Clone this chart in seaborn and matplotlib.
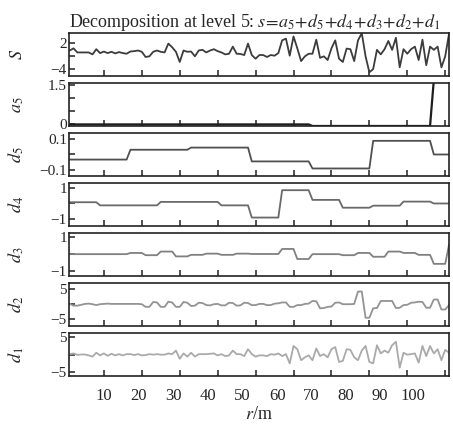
import numpy as np
import matplotlib
matplotlib.use('Agg')
import matplotlib.pyplot as plt
import seaborn as sns

# sample position r (m)
r = np.arange(1, 102)

# signal s
s = [0.3, 0.8, -0.15, -0.15, -0.15, -0.15, -0.6, 0.6, -0.3, 0.05,
     -0.3, 0.0, -0.37, -0.07, -0.3, -0.44, 0.07, 0.15, 0.3, 0.0,
     -1.2, -1.05, 0.0, 0.3, 0.0, -0.15, 1.9, 1.05, 0.0, -2.35,
     0.3, 0.0, 0.07, -1.05, 0.3, 0.45, -0.15, 0.3, 0.6, 0.15,
     -0.15, -0.6, -0.45, 1.2, -0.45, -0.5, -0.75, 1.9, -0.75, -1.6,
     -0.75, -0.75, -1.2, -0.75, -0.9, -0.3, 2.65, 3.05, -0.9, 3.55,
     0.8, -2.15, -1.05, -0.45, -0.45, 2.8, -1.4, -1.05, -1.9, 0.8,
     2.65, -1.6, -2.35, 0.75, 0.6, -2.15, 2.65, 4.3, -1.05, -4.75,
     -4.0, 0.45, -0.6, 0.6, 2.5, 0.45, 3.25, -3.6, 0.6, -0.45,
     0.6, 1.2, -1.9, 2.8, -3.1, 1.2, 0.45, 1.2, -3.6, -1.05, 4.15]

# piecewise constant components: level of each block and its length in samples
a5_level = [0.0, -0.06, 1.7]
a5_len = [64, 32, 5]
d5_level = [-0.033, 0.031, 0.045, -0.045, -0.091, 0.089, 0.0]
d5_len = [16, 16, 16, 16, 16, 16, 5]
d4_level = [0.08, -0.12, 0.1, -0.12, -0.9, 0.85, 0.23, -0.27, -0.14, 0.12, 0.0]
d4_len = [8, 16, 16, 8, 8, 8, 8, 8, 8, 8, 5]
d3_level = [0.0, 0.07, -0.06, 0.15, -0.13, -0.04, 0.03, -0.04, 0.03, 0.01,
            0.30, -0.28, 0.0, -0.06, 0.07, -0.15, 0.15, 0.07, -0.04, -0.56, 0.54]
d3_len = [16, 4, 4, 4, 4, 4, 4, 4, 4, 8,
          4, 4, 8, 4, 4, 4, 4, 4, 4, 4, 1]

d2 = [0.1, -0.5, -0.5, -0.2, 0.1, 0.2, 0.0, -0.3, 0.0, 0.1,
      0.2, 0.1, 0.1, 0.1, 0.1, 0.1, 0.1, 0.1, 0.1, 0.0,
      -0.9, -0.9, 0.75, 0.6, -0.9, -0.9, 0.85, 0.6, -0.9, -0.9,
      0.75, 0.5, -0.6, -0.5, 0.5, 0.4, -0.3, -0.4, 0.0, 0.1,
      -0.4, -0.4, 0.5, 0.4, -0.5, -0.4, 0.5, 0.4, -0.3, -0.3,
      0.1, 0.1, -0.3, -0.3, 0.2, 0.3, 0.6, 0.6, -0.9, -0.9,
      -0.3, -0.3, 0.1, 0.2, 1.1, 1.0, -1.4, -1.3, -0.9, -0.8,
      0.5, 0.6, 0.0, 0.0, 0.0, 0.1, 4.3, 4.3, -4.6, -4.6,
      -1.4, -1.3, 1.1, 1.1, 1.1, 1.1, -1.3, -1.2, -0.3, -0.2,
      0.5, 0.6, 0.85, 0.75, -1.2, -1.2, 1.6, 1.6, -1.8, -1.8, -0.3]

d1 = [0.1, 0.3, -0.1, 0.0, 0.0, -0.25, -0.6, 0.5, -0.25, 0.3,
      -0.35, 0.2, -0.25, 0.1, -0.25, 0.1, 0.1, -0.15, 0.1, -0.25,
      -0.15, 0.1, -0.05, 0.1, -0.05, -0.05, 0.3, 0.1, 1.1, -1.2,
      0.3, -0.6, 0.5, -0.6, 0.1, 0.1, 0.1, 0.2, 0.3, -0.25,
      0.1, -0.45, -0.25, 1.1, 0.1, 0.1, -0.45, 1.5, 0.1, -0.6,
      -0.25, -0.25, -0.45, 0.1, -0.05, 0.3, -0.45, 0.1, -2.5, 2.4,
      1.5, -1.6, -0.8, -0.25, -1.6, 1.7, -0.45, 0.1, -0.8, 1.5,
      2.1, -2.1, -1.8, 1.5, 1.3, -0.8, -1.6, 1.1, 2.4, -2.1,
      -2.5, 2.6, 0.3, 1.1, 0.5, 2.6, 3.6, -3.7, 0.5, -0.05,
      0.1, 0.3, -2.3, 2.4, -0.45, 2.4, 0.3, 1.5, -1.6, 1.3, 0.5]

a5 = np.repeat(a5_level, a5_len)
d5 = np.repeat(d5_level, d5_len)
d4 = np.repeat(d4_level, d4_len)
d3 = np.repeat(d3_level, d3_len)

x_ticks = [10, 20, 30, 40, 50, 60, 70, 80, 90, 100]
x_labels = ['10', '20', '30', '40', '50', '60', '70', '80', '90', '100']
# where the printed labels sit in the reference (they drift from the tick marks)
x_label_pos = [10, 19.2, 28.3, 37.5, 46.5, 55.7, 64.7, 73.7, 82.8, 91.5]

M = '\u2212'
panels = [
    (r'$S$', s, '#3c3c3c', 1.3, (-5.6, 4.35), [-4, -1, 2], [M + '4', '', '2']),
    (r'$a_5$', a5, '#1e1e1e', 1.6, (-0.06, 1.58), [0, 0.5, 1.0, 1.5], ['0', '', '', '1.5']),
    (r'$d_5$', d5, '#505050', 1.3, (-0.14, 0.14), [-0.1, 0, 0.1], [M + '0.1', '', '0.1']),
    (r'$d_4$', d4, '#6a6a6a', 1.3, (-1.44, 1.31), [-1, 0, 1], [M + '1', '', '1']),
    (r'$d_3$', d3, '#808080', 1.3, (-1.26, 1.22), [-1, 0, 1], [M + '1', '', '1']),
    (r'$d_2$', d2, '#939393', 1.3, (-7.4, 7.2), [-5, 0, 5], [M + '5', '', '5']),
    (r'$d_1$', d1, '#aaaaaa', 1.3, (-6.05, 6.05), [-5, 0, 5], [M + '5', '', '5']),
]

sns.set_theme(style='ticks')
plt.rcParams['font.family'] = ['Liberation Serif', 'DejaVu Serif']
plt.rcParams['mathtext.fontset'] = 'stix'
plt.rcParams['axes.edgecolor'] = '#222222'
plt.rcParams['axes.linewidth'] = 1.2

fig = plt.figure(figsize=(4.53, 4.28), dpi=100)
gs = fig.add_gridspec(7, 1, left=0.1523, right=0.9912, top=0.9229, bottom=0.1215, hspace=0.163)

for i, (name, vals, col, lw, ylim, yt, ytl) in enumerate(panels):
    ax = fig.add_subplot(gs[i, 0])
    sns.lineplot(x=r, y=vals, ax=ax, color=col, linewidth=lw)
    ax.set_xlim(0.8, 101)
    ax.set_ylim(*ylim)
    ax.set_yticks(yt)
    ax.set_yticklabels(ytl)
    ax.set_xticks(x_ticks)
    ax.set_xticklabels([])
    ax.tick_params(axis='both', direction='in', length=4, width=1.1, color='#222222',
                   labelsize=11, pad=1.5, top=False, right=False)
    ax.set_ylabel(name, fontsize=13)
    ax.yaxis.set_label_coords(-0.112, 0.5)
    ax.set_xlabel('')
    if i == 0:
        ax.set_title(r'Decomposition at level 5: $s\!=\!a_5\!+\!d_5\!+\!d_4\!+\!d_3\!+\!d_2\!+\!d_1$',
                     fontsize=13, pad=4, x=0.49)
    if i == len(panels) - 1:
        ax.xaxis.remove_overlapping_locs = False
        ax.set_xticks(x_label_pos, x_labels, minor=True)
        ax.tick_params(axis='x', which='minor', length=0, labelsize=12, pad=9)
        ax.set_xlabel(r'$r$/m', fontsize=13, labelpad=1)

plt.savefig('out.png', dpi=100)
